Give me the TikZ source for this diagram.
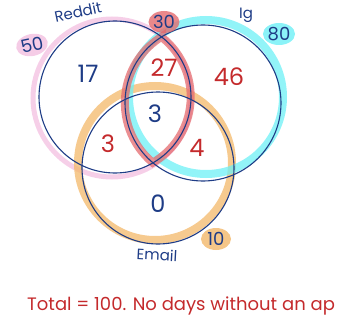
\documentclass[tikz,border=0pt]{standalone}
\usepackage{fontspec}
\setmainfont{Poppins}
\usetikzlibrary{shapes.geometric}
\definecolor{inkblue}{HTML}{1E3C86}
\definecolor{inkred}{HTML}{C42A2C}
\definecolor{penpink}{HTML}{F3BFE0}
\definecolor{pencyan}{HTML}{6EF0F6}
\definecolor{penorange}{HTML}{F3B86A}
\definecolor{penred}{HTML}{E46A6E}

\begin{document}
\begin{tikzpicture}[x=1pt,y=-1pt,every node/.style={font=\fontsize{24}{26}\selectfont,inner sep=1pt},
  ring/.style={draw=inkblue,line width=1.1pt},marker/.style={line width=8pt,opacity=0.75},
  blob/.style={ellipse,minimum width=30pt,minimum height=22pt,inner sep=0pt,fill opacity=0.8,text opacity=1,
    text=inkblue,font=\fontsize{18}{20}\selectfont},
  numblue/.style={text=inkblue},numred/.style={text=inkred},
  setname/.style={text=inkblue,font=\fontsize{15}{17}\selectfont}]
\useasboundingbox (0,0) rectangle (340,329);
\coordinate (reddit) at (115,97); \coordinate (ig) at (203,103); \coordinate (email) at (158,168);
% highlighter strokes
\draw[marker,penpink,line width=5pt] (112,98) circle[radius=79];
\draw[marker,penorange] (155,163) circle[radius=77];
\draw[marker,pencyan] (206,97) circle[radius=77];
\draw[marker,penred] (161.5,37) arc[start angle=-52,end angle=60,radius=76] arc[start angle=130,end angle=238,radius=78] -- cycle;
% pen circles
\draw[ring] (reddit) circle[radius=76]; \draw[ring] (ig) circle[radius=78]; \draw[ring] (email) circle[radius=76];
% totals
\node[blob,fill=penpink,rotate=12] (reddittotal) at (32,45) {50};
\node[blob,fill=penred] (bothtotal) at (164,22) {30};
\node[blob,fill=pencyan] (igtotal) at (279,34) {80};
\node[blob,fill=penorange] (emailtotal) at (216,239) {10};
% set names
\node[setname,rotate=12] (redditname) at (78,12) {Reddit}; \node[setname] (igname) at (246,15) {Ig};
\node[setname,rotate=-3] (emailname) at (157,255) {Email};
% regions
\node[numblue] (onlyreddit) at (88,74) {17}; \node[numred] (redditig) at (164,68) {27};
\node[numred] (onlyig) at (229,77) {46}; \node[numblue] (allthree) at (155,114) {3};
\node[numred] (redditemail) at (108,144) {3}; \node[numred] (igemail) at (197,148) {4};
\node[numblue] (onlyemail) at (158,204) {0};
\node[numred,anchor=west,font=\fontsize{18}{20}\selectfont] (note) at (26,306) {Total = 100.  No days without an ap};
\end{tikzpicture}
\end{document}
